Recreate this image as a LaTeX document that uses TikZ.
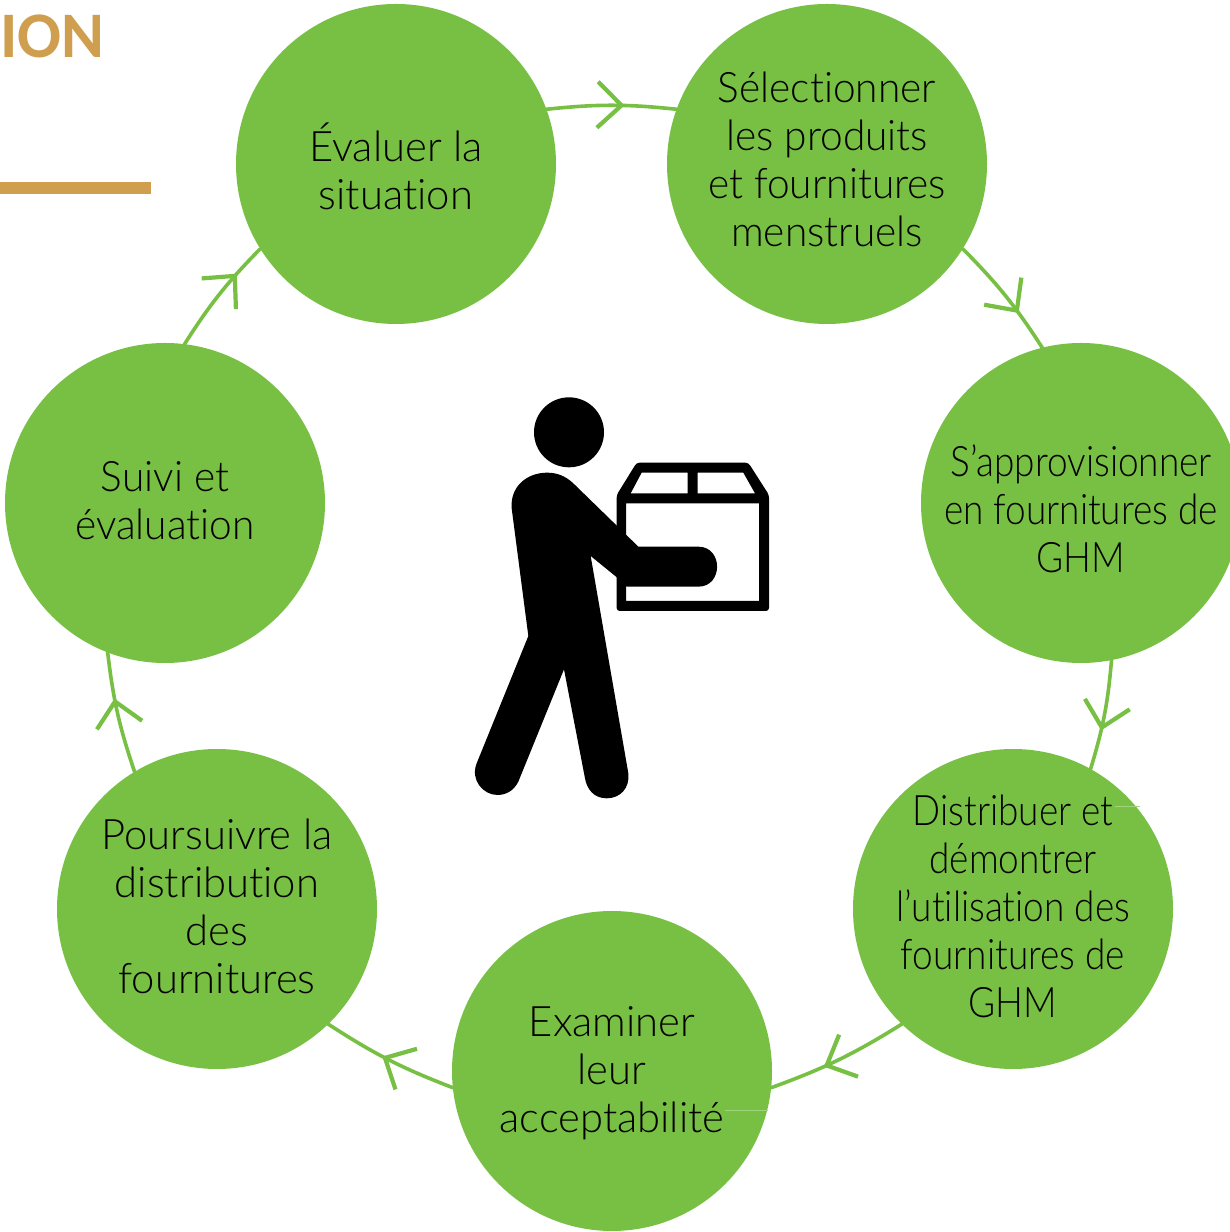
\documentclass[tikz,border=0pt]{standalone}
\usepackage{graphicx}
\usepackage{fontspec}
\setmainfont{Carlito}
\newfontfamily\lblfont[FakeStretch=0.88,Ligatures=NoCommon,UprightFont={* Light}]{Lato}
\usetikzlibrary{arrows.meta,decorations.markings}
\definecolor{grn}{HTML}{77C043}
\definecolor{gold}{HTML}{CF9E4E}
\newcommand\lbl[3]{\raisebox{#1}[0pt][0pt]{\scalebox{#2}[1]{\begin{tabular}{@{}c@{}}#3\end{tabular}}}}
\tikzset{
  stepcirc/.style={circle,fill=grn,minimum size=320pt,inner sep=0pt,outer sep=0pt,text=black,
    font=\lblfont\fontsize{42}{48}\selectfont},
  flow/.style={draw=grn,line width=3.6pt,line cap=round,bend left=#1},
  chev/.style={postaction={decorate,decoration={markings,mark=at position #1 with {\arrow[grn,line width=4.2pt,line cap=round]{Straight Barb[length=24pt,width=46pt]}}}}},
  hair/.style={draw=grn!70!white,line width=1pt},
}
\begin{document}
\begin{tikzpicture}[x=1pt,y=1pt]
\clip (0,0) rectangle (1230,1232);
\fill[white] (0,0) rectangle (1230,1232);
\node[anchor=base west,text=gold,inner sep=0pt,font=\bfseries\fontsize{65}{65}\selectfont] (title) at (0,1174) {ION};
\node[fill=gold,minimum width=151pt,minimum height=12pt,inner sep=0pt,anchor=north west] (bar) at (0,1050) {};
\node[stepcirc] (ev) at (396,1068) {\lbl{-16pt}{1.13}{Évaluer la\\situation}};
\node[stepcirc] (sel) at (827,1068) {\lbl{-7pt}{1.10}{Sélectionner\\les produits\\et fournitures\\menstruels}};
\node[stepcirc] (sap) at (1081,729) {\lbl{-18pt}{1}{S’approvisionner\\en fournitures de\\GHM}};
\node[stepcirc] (dist) at (1013,323) {\lbl{-9pt}{1}{Distribuer et\\démontrer\\l’utilisation des\\fournitures de\\GHM}};
\node[stepcirc] (exam) at (612,161) {\lbl{-10pt}{1.13}{Examiner\\leur\\acceptabilité}};
\node[stepcirc] (pour) at (217,323) {\lbl{-9pt}{1.13}{Poursuivre la\\distribution\\des\\fournitures}};
\node[stepcirc] (suivi) at (165,729) {\lbl{-9pt}{1.10}{Suivi et\\évaluation}};
\draw[hair] (1115,425) -- (1140,425);
\draw[hair] (725,121) -- (768,121);
\draw[flow=6,chev=.6] (ev.20) to (sel.160);
\draw[flow=6,chev=.67] (sel.-32) to (sap.104);
\draw[flow=6,chev=.64] (sap.-79) to (dist.61);
\draw[flow=6,chev=.61] (dist.-134) to (exam.-6);
\draw[flow=6,chev=.55] (exam.186) to (pour.-46);
\draw[flow=6,chev=.62] (pour.121) to (suivi.-111);
\draw[flow=6,chev=.72] (suivi.83) to (ev.-148);
\begin{scope}[shift={(460,852)},x=0.33333pt,y=-0.33333pt]
\fill (327,157) circle [radius=105];
\fill[even odd rule,rounded corners=3pt] (470,345) -- (530,248) -- (865,248) -- (927,345) -- (927,693) -- (470,693) -- cycle
  [sharp corners] (498,370) -- (897,370) -- (897,663) -- (498,663) -- cycle
  (545,278) -- (683,278) -- (683,340) -- (512,340) -- cycle
  (713,278) -- (850,278) -- (885,340) -- (713,340) -- cycle;
\fill (155,385) .. controls (150,320) and (200,278) .. (262,278)
  .. controls (300,278) and (325,295) .. (345,315)
  -- (535,500) -- (715,500) .. controls (790,500) and (790,620) .. (715,620)
  -- (500,620) -- (468,590) -- (392,528) -- (505,1180)
  .. controls (510,1225) and (480,1255) .. (440,1255)
  .. controls (400,1255) and (380,1225) .. (375,1195)
  -- (312,868) -- (175,1205)
  .. controls (160,1235) and (135,1245) .. (112,1245)
  .. controls (70,1245) and (30,1200) .. (50,1150)
  -- (205,768) -- cycle;
\end{scope}
\end{tikzpicture}
\end{document}
